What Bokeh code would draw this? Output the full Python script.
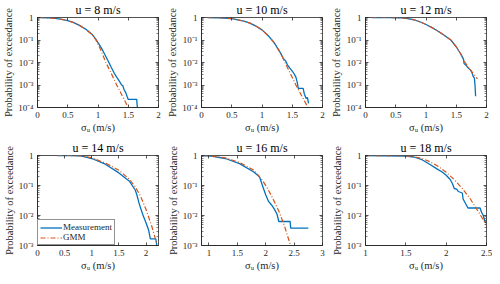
from bokeh.plotting import figure
from bokeh.layouts import gridplot
from bokeh.models import (LinearAxis, LogAxis, FixedTicker, SingleIntervalTicker,
                          CustomJSTickFormatter, Range1d)
from bokeh.embed import file_html
from bokeh.resources import INLINE

FONT = "Liberation Serif"
TXT = "#262626"
BLUE = "#0072BD"
RED = "#D95319"

# ---------------- data ----------------
speeds = [8, 10, 12, 14, 16, 18]
x_ranges = [(0, 2), (0, 2), (0, 2), (0, 2.23), (0.87, 3), (1, 2.5)]
y_floor = [1e-4, 1e-4, 1e-4, 1e-3, 1e-3, 1e-3]
y_major_ticks = [1e-4, 1e-3, 1e-2, 1e-1, 1]
x_tick_step = 0.5
series_names = ["Measurement", "GMM"]
x_label_text = "σᵤ (m/s)"
y_label_text = "Probability of exceedance"

meas_x_8 = [0.04, 0.2, 0.3, 0.4, 0.5, 0.6, 0.7, 0.8, 0.9, 0.96, 1.0, 1.05, 1.1, 1.18, 1.22, 1.27,
            1.32, 1.36, 1.39, 1.41, 1.43, 1.46, 1.48, 1.5, 1.64, 1.65]
meas_p_8 = [1.0, 0.955, 0.912, 0.832, 0.724, 0.589, 0.437, 0.302, 0.182, 0.112, 0.0759, 0.0468,
            0.0263, 0.01, 0.00603, 0.00331, 0.002, 0.00138, 0.001, 0.000933, 0.000631, 0.000447,
            0.000316, 0.000229, 0.000229, 0.0001]
gmm_x_8 = [0.04, 0.2, 0.3, 0.4, 0.5, 0.6, 0.7, 0.8, 0.9, 0.96, 1.0, 1.05, 1.13, 1.2, 1.31, 1.4, 1.5]
gmm_p_8 = [1.0, 0.955, 0.912, 0.832, 0.724, 0.589, 0.437, 0.295, 0.174, 0.107, 0.0661, 0.0339,
           0.01, 0.00417, 0.001, 0.000331, 0.0001]

meas_x_10 = [0.1, 0.3, 0.5, 0.7, 0.8, 0.9, 1.0, 1.1, 1.2, 1.3, 1.35, 1.37, 1.39, 1.42, 1.46, 1.5,
             1.53, 1.56, 1.58, 1.6, 1.68, 1.7, 1.73, 1.75, 1.77]
meas_p_10 = [1.0, 0.977, 0.891, 0.692, 0.562, 0.417, 0.282, 0.158, 0.0759, 0.0282, 0.0158, 0.0132,
             0.012, 0.00794, 0.00562, 0.00417, 0.00316, 0.00224, 0.00141, 0.000708, 0.000708,
             0.000398, 0.000251, 0.000282, 0.000151]
gmm_x_10 = [0.1, 0.3, 0.5, 0.7, 0.8, 0.9, 1.0, 1.1, 1.15, 1.2, 1.3, 1.38, 1.47, 1.56, 1.66, 1.76]
gmm_p_10 = [1.0, 0.977, 0.891, 0.692, 0.562, 0.417, 0.282, 0.158, 0.112, 0.0759, 0.0282, 0.01,
            0.00316, 0.001, 0.000316, 0.0001]

meas_x_12 = [0.1, 0.4, 0.6, 0.7, 0.8, 0.9, 1.0, 1.1, 1.2, 1.3, 1.41, 1.5, 1.57, 1.6, 1.62, 1.63,
             1.66, 1.7, 1.74, 1.76, 1.78, 1.8, 1.81, 1.82]
meas_p_12 = [1.0, 1.0, 0.955, 0.891, 0.794, 0.646, 0.49, 0.355, 0.245, 0.162, 0.1, 0.0501, 0.0251,
             0.0178, 0.0141, 0.00891, 0.00759, 0.00562, 0.00447, 0.00355, 0.0024, 0.002, 0.001,
             0.000316]
gmm_x_12 = [0.1, 0.4, 0.6, 0.7, 0.8, 0.9, 1.0, 1.1, 1.2, 1.3, 1.41, 1.5, 1.57, 1.64, 1.7, 1.75,
            1.8, 1.85]
gmm_p_12 = [1.0, 1.0, 0.955, 0.891, 0.794, 0.646, 0.49, 0.355, 0.245, 0.162, 0.1, 0.0501, 0.0251,
            0.0107, 0.00631, 0.00417, 0.00282, 0.00186]

meas_x_14 = [0.36, 0.6, 0.8, 1.0, 1.25, 1.5, 1.7, 1.8, 1.83, 1.87, 1.9, 1.95, 2.0, 2.05, 2.08,
             2.18, 2.2]
meas_p_14 = [1.0, 1.0, 0.977, 0.794, 0.513, 0.263, 0.135, 0.0708, 0.0501, 0.0263, 0.0178, 0.00955,
             0.00575, 0.00316, 0.00166, 0.00166, 0.001]
gmm_x_14 = [0.36, 0.6, 0.8, 1.0, 1.25, 1.5, 1.7, 1.8, 1.9, 2.0, 2.1, 2.2]
gmm_p_14 = [1.0, 1.0, 0.977, 0.832, 0.562, 0.324, 0.158, 0.0912, 0.0437, 0.0158, 0.00479, 0.00112]

meas_x_16 = [0.87, 1.04, 1.29, 1.54, 1.79, 1.88, 1.9, 1.95, 2.0, 2.05, 2.1, 2.15, 2.2, 2.23, 2.43,
             2.44, 2.75]
meas_p_16 = [1.0, 0.955, 0.794, 0.537, 0.282, 0.204, 0.174, 0.0912, 0.049, 0.0295, 0.0229, 0.0166,
             0.011, 0.00631, 0.00631, 0.0038, 0.0038]
gmm_x_16 = [0.87, 1.04, 1.29, 1.54, 1.79, 1.94, 2.03, 2.13, 2.23, 2.32, 2.43]
gmm_p_16 = [1.0, 0.977, 0.832, 0.589, 0.324, 0.151, 0.0813, 0.0355, 0.0141, 0.00513, 0.00112]

meas_x_18 = [1.0, 1.5, 1.6, 1.7, 1.8, 1.9, 1.95, 2.0, 2.05, 2.08, 2.1, 2.13, 2.15, 2.2, 2.21, 2.23,
             2.25, 2.27, 2.42, 2.44, 2.46, 2.47, 2.48, 2.5]
meas_p_18 = [1.0, 0.955, 0.891, 0.724, 0.501, 0.339, 0.282, 0.219, 0.158, 0.112, 0.0794, 0.0759,
             0.0631, 0.0562, 0.0355, 0.0282, 0.0224, 0.0178, 0.0178, 0.0126, 0.01, 0.00794,
             0.00631, 0.00562]
gmm_x_18 = [1.0, 1.5, 1.6, 1.7, 1.8, 1.9, 2.0, 2.1, 2.2, 2.3, 2.4, 2.5]
gmm_p_18 = [1.0, 0.977, 0.912, 0.794, 0.617, 0.437, 0.275, 0.158, 0.0794, 0.0355, 0.0132, 0.00479]

meas_x = [meas_x_8, meas_x_10, meas_x_12, meas_x_14, meas_x_16, meas_x_18]
meas_p = [meas_p_8, meas_p_10, meas_p_12, meas_p_14, meas_p_16, meas_p_18]
gmm_x = [gmm_x_8, gmm_x_10, gmm_x_12, gmm_x_14, gmm_x_16, gmm_x_18]
gmm_p = [gmm_p_8, gmm_p_10, gmm_p_12, gmm_p_14, gmm_p_16, gmm_p_18]

# ---------------- layout / styling ----------------
W, H = 164, 138
B_LEFT, B_RIGHT, B_TOP, B_BOTTOM = 36, 6, 17, 31

minor_log_ticks = [m * 10.0 ** e for e in range(-4, 0) for m in range(2, 10)]

X_FMT = "return String(Math.round(tick*10)/10);"
Y_FMT = """
const e = Math.round(Math.log10(tick));
if (e === 0) return "1";
const sup = {"-":"\u207b","0":"\u2070","1":"\u00b9","2":"\u00b2","3":"\u00b3","4":"\u2074",
             "5":"\u2075","6":"\u2076","7":"\u2077","8":"\u2078","9":"\u2079"};
return "10" + String(e).split("").map(c => sup[c]).join("");
"""
BLANK = "return '';"


def style_axis(ax, minor=True):
    ax.axis_line_color = TXT
    ax.axis_line_width = 0.8
    ax.major_tick_in = 3
    ax.major_tick_out = 0
    ax.major_tick_line_color = TXT
    ax.major_tick_line_width = 0.8
    if minor:
        ax.minor_tick_in = 2
        ax.minor_tick_out = 0
        ax.minor_tick_line_color = TXT
        ax.minor_tick_line_width = 0.6
    else:
        ax.minor_tick_line_color = None
    ax.major_label_text_font = FONT
    ax.major_label_text_font_size = "9px"
    ax.major_label_text_color = TXT
    ax.major_label_standoff = 4


def make_panel(i):
    x0, x1 = x_ranges[i]
    p = figure(width=W, height=H, y_axis_type="log",
               x_range=Range1d(x0, x1), y_range=Range1d(y_floor[i], 1),
               output_backend="svg", toolbar_location=None,
               min_border_left=B_LEFT, min_border_right=B_RIGHT,
               min_border_top=B_TOP, min_border_bottom=B_BOTTOM)
    p.background_fill_color = "white"
    p.border_fill_color = "white"
    p.outline_line_color = TXT
    p.outline_line_width = 0.8
    p.xgrid.visible = False
    p.ygrid.visible = False

    # title
    p.title.text = "u = %d m/s" % speeds[i]
    p.title.align = "center"
    p.title.text_font = FONT
    p.title.text_font_size = "12px"
    p.title.text_font_style = "normal"
    p.title.text_color = "black"
    p.title.standoff = 1
    p.title.offset = 0

    xt = SingleIntervalTicker(interval=x_tick_step, num_minor_ticks=0)
    yt = FixedTicker(ticks=y_major_ticks, minor_ticks=minor_log_ticks)

    p.xaxis.ticker = xt
    p.xaxis.formatter = CustomJSTickFormatter(code=X_FMT)
    p.yaxis.ticker = yt
    p.yaxis.formatter = CustomJSTickFormatter(code=Y_FMT)
    for ax in p.xaxis:
        style_axis(ax, minor=False)
        ax.axis_label = x_label_text
        ax.axis_label_text_font = FONT
        ax.axis_label_text_font_size = "10.5px"
        ax.axis_label_text_font_style = "normal"
        ax.axis_label_text_color = TXT
        ax.axis_label_standoff = 1
    for ax in p.yaxis:
        style_axis(ax, minor=True)
        ax.axis_label = y_label_text
        ax.axis_label_text_font = FONT
        ax.axis_label_text_font_size = "10.5px"
        ax.axis_label_text_font_style = "normal"
        ax.axis_label_text_color = TXT
        ax.axis_label_standoff = 1

    top = LinearAxis(ticker=xt, formatter=CustomJSTickFormatter(code=BLANK))
    style_axis(top, minor=False)
    top.axis_line_color = None
    top.major_label_standoff = 0
    top.major_label_text_font_size = "1px"
    p.add_layout(top, "above")
    right = LogAxis(ticker=yt, formatter=CustomJSTickFormatter(code=BLANK))
    style_axis(right, minor=True)
    right.axis_line_color = None
    right.major_label_standoff = 0
    right.major_label_text_font_size = "1px"
    p.add_layout(right, "right")

    if i == 3:
        p.line(meas_x[i], meas_p[i], line_color=BLUE, line_width=1.3, legend_label=series_names[0])
        p.line(gmm_x[i], gmm_p[i], line_color=RED, line_width=1.2, line_dash="5 2 1 2",
               legend_label=series_names[1])
        lg = p.legend[0]
        lg.location = "bottom_left"
        lg.margin = 0
        lg.padding = 2
        lg.spacing = 0
        lg.label_text_font = FONT
        lg.label_text_font_size = "9px"
        lg.label_text_color = TXT
        lg.label_height = 9
        lg.label_standoff = 1
        lg.glyph_width = 22
        lg.glyph_height = 9
        lg.border_line_color = TXT
        lg.border_line_width = 0.8
        lg.background_fill_color = "white"
        lg.background_fill_alpha = 1.0
    else:
        p.line(meas_x[i], meas_p[i], line_color=BLUE, line_width=1.3)
        p.line(gmm_x[i], gmm_p[i], line_color=RED, line_width=1.2, line_dash="5 2 1 2")
    return p


panels = [make_panel(i) for i in range(6)]
grid = gridplot([panels[0:3], panels[3:6]], toolbar_location=None)

open("out.html", "w").write(file_html(grid, INLINE))
